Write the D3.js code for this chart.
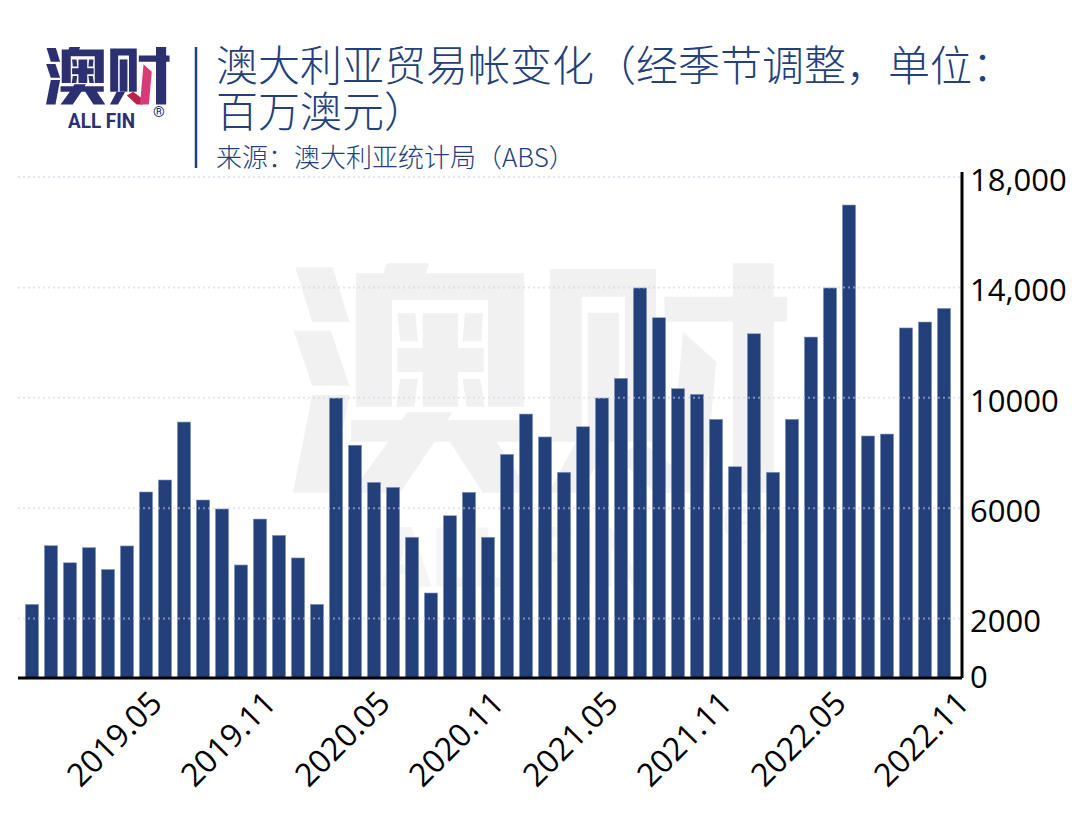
<!DOCTYPE html>
<html>
<head>
<meta charset="utf-8">
<script src="https://cdn.jsdelivr.net/npm/d3@7"></script>
<style>
  html, body { margin: 0; padding: 0; background: #fff; }
  svg { display: block; }
  .cjk { font-family: "Noto Sans CJK SC", sans-serif; }
</style>
</head>
<body>
<div id="chart"></div>
<script>
// months run 2018.11 .. 2022.11
const months = [
  "2018.11","2018.12",
  "2019.01","2019.02","2019.03","2019.04","2019.05","2019.06","2019.07","2019.08","2019.09","2019.10","2019.11","2019.12",
  "2020.01","2020.02","2020.03","2020.04","2020.05","2020.06","2020.07","2020.08","2020.09","2020.10","2020.11","2020.12",
  "2021.01","2021.02","2021.03","2021.04","2021.05","2021.06","2021.07","2021.08","2021.09","2021.10","2021.11","2021.12",
  "2022.01","2022.02","2022.03","2022.04","2022.05","2022.06","2022.07","2022.08","2022.09","2022.10","2022.11"
];
const balance = [
  2515,4640,4020,4570,3780,4630,6585,7020,9120,6295,5970,3940,5605,5015,4195,2515,
  9990,8280,6935,6755,4945,2925,5725,6575,4945,7950,9410,8580,7300,8950,9990,10705,
  13980,12900,10330,10125,9220,7500,12320,7300,9220,12200,13980,16985,8615,8685,12530,12745,13240
];
const tickMonths = ["2019.05","2019.11","2020.05","2020.11","2021.05","2021.11","2022.05","2022.11"];
const yTicks = [0, 2000, 6000, 10000, 14000, 18000];
const yTickLabels = ["0", "2000", "6000", "10000", "14,000", "18,000"];
const titleLines = ["澳大利亚贸易帐变化（经季节调整，单位：", "百万澳元）"];
const sourceText = "来源：澳大利亚统计局（ABS）";

const width = 1080;
const height = 832;
const navy = "#23407a";
const baseY = 678;  // the axis line sits a little under the zero of the scale

const svg = d3.select("#chart").append("svg")
    .attr("width", width)
    .attr("height", height);

const x = d3.scaleBand()
    .domain(months)
    .range([22.5, 953.5])
    .paddingInner(0.3)
    .paddingOuter(0.15);

const y = d3.scaleLinear()
    .domain([0, 18000])
    .range([673.7, 177]);

// logo glyphs, traced by hand, same shapes for the logo and the big watermark
const logoGlyphs = [
  "M75 82H185L235 246H125Z",
  "M70 272H180L235 437H125Z",
  "M125 465H235L180 758H68Z",
  "M345 70H472L460 100H752V500H645V180H361V500H254V100H335Z",
  "M377 220H430L437 304H385Z",
  "M577 220H630L625 304H570Z",
  "M452 220H556V324H632V397H556V500H452V397H377V324H452Z",
  "M385 417H437L427 500H373Z",
  "M570 417H622L635 500H582Z",
  "M405 517H540L525 540H752V605H670L770 758H630L532 605H487L385 758H240L350 605H240V540H390Z",
  "M828 87H1142V605H1050V170H922V605H828Z",
  "M940 218H1032V605H940Z",
  "M905 605H1005L920 758H825Z",
  "M1370 70H1490V170H1530V245H1490V758H1370V245H1167V170H1370Z"
];
const checkPink = "M1222 275L1320 365L1285 758H1180Z";
const checkRed = "M1025 650L1100 605L1220 700L1215 758H1140Z";

function drawLogo(g, color, pink, red, nameColor) {
  // glyph coords -> page px at 1:1 size of the watermark
  const glyphs = g.append("g")
      .attr("transform", "translate(270,240) scale(0.338,0.3333)");
  glyphs.selectAll("path.glyph")
      .data(logoGlyphs)
    .join("path")
      .attr("class", "glyph")
      .attr("d", d => d)
      .attr("fill", color);
  glyphs.append("path").attr("d", checkRed).attr("fill", red);
  glyphs.append("path").attr("d", checkPink).attr("fill", pink);
  g.append("text")
      .attr("x", 381)
      .attr("y", 587)
      .attr("font-family", "Roboto, sans-serif")
      .attr("font-size", 84)
      .attr("font-weight", 700)
      .attr("fill", nameColor)
      .attr("textLength", 268)
      .attr("lengthAdjust", "spacingAndGlyphs")
      .text("ALL FIN");
  g.append("text")
      .attr("x", 721)
      .attr("y", 543)
      .attr("font-family", "Roboto, sans-serif")
      .attr("font-size", 60)
      .attr("fill", nameColor)
      .text("®");
}

// watermark behind everything
drawLogo(svg.append("g"), "#f0f1f0", "#f0f1f0", "#f0f1f0", "#f4f5f4");

// small logo, a quarter of the watermark
drawLogo(
  svg.append("g").attr("transform", "translate(46,47) scale(0.25) translate(-293,-263)"),
  "#2c3070", "#d93a78", "#b8234a", "#2c3070"
);

svg.append("line")
    .attr("x1", 196).attr("x2", 196)
    .attr("y1", 47).attr("y2", 168)
    .attr("stroke", navy)
    .attr("stroke-width", 2.5);

// title + source
svg.selectAll("text.title")
    .data(titleLines)
  .join("text")
    .attr("class", "title cjk")
    .attr("x", 216)
    .attr("y", (d, i) => 81 + i * 46)
    .attr("font-size", 42)
    .attr("font-weight", 300)
    .attr("fill", navy)
    .text(d => d);

svg.append("text")
    .attr("class", "cjk")
    .attr("x", 216)
    .attr("y", 167)
    .attr("font-size", 26)
    .attr("font-weight", 300)
    .attr("fill", navy)
    .text(sourceText);

// bars
svg.append("g")
  .selectAll("rect")
  .data(balance)
  .join("rect")
    .attr("x", (d, i) => x(months[i]))
    .attr("y", d => y(d))
    .attr("width", x.bandwidth())
    .attr("height", d => baseY - y(d))
    .attr("fill", "#23407a")
    .attr("stroke", "#8f9fc6")
    .attr("stroke-width", 0.6);

// dotted grid, faintly over the bars too
svg.append("g")
  .selectAll("line")
  .data(yTicks.filter(d => d > 0))
  .join("line")
    .attr("x1", 18)
    .attr("x2", 960)
    .attr("y1", d => y(d))
    .attr("y2", d => y(d))
    .attr("stroke", "#d2d2ea")
    .attr("stroke-opacity", 0.55)
    .attr("stroke-width", 2)
    .attr("stroke-dasharray", "2 3");

// right axis
const yAxis = d3.axisRight(y)
    .tickValues(yTicks)
    .tickSize(0)
    .tickPadding(8)
    .tickFormat((d, i) => yTickLabels[i]);

const yG = svg.append("g")
    .attr("transform", "translate(962,0)")
    .call(yAxis);
yG.select(".domain")
    .attr("d", `M0,172V${baseY}`)
    .attr("stroke", "#000")
    .attr("stroke-width", 3);
yG.selectAll("text")
    .attr("font-size", 31)
    .attr("font-family", "'Open Sans', sans-serif")
    .attr("fill", "#000")
    .attr("dy", "0.43em");

// bottom axis
const xAxis = d3.axisBottom(x)
    .tickValues(tickMonths)
    .tickSize(0)
    .tickPadding(0);

const xG = svg.append("g")
    .attr("transform", `translate(0,${baseY})`)
    .call(xAxis);
xG.select(".domain")
    .attr("d", "M18,0H962")
    .attr("stroke", "#000")
    .attr("stroke-width", 3);
xG.selectAll("text")
    .attr("font-size", 32)
    .attr("font-family", "'Open Sans', sans-serif")
    .attr("fill", "#000")
    .attr("text-anchor", "end")
    .attr("dy", 0)
    .attr("y", 0)
    // last label sits further right in the original
    .attr("transform", d => `translate(${d === "2022.11" ? 27 : 18},27) rotate(-45)`);
</script>
</body>
</html>
